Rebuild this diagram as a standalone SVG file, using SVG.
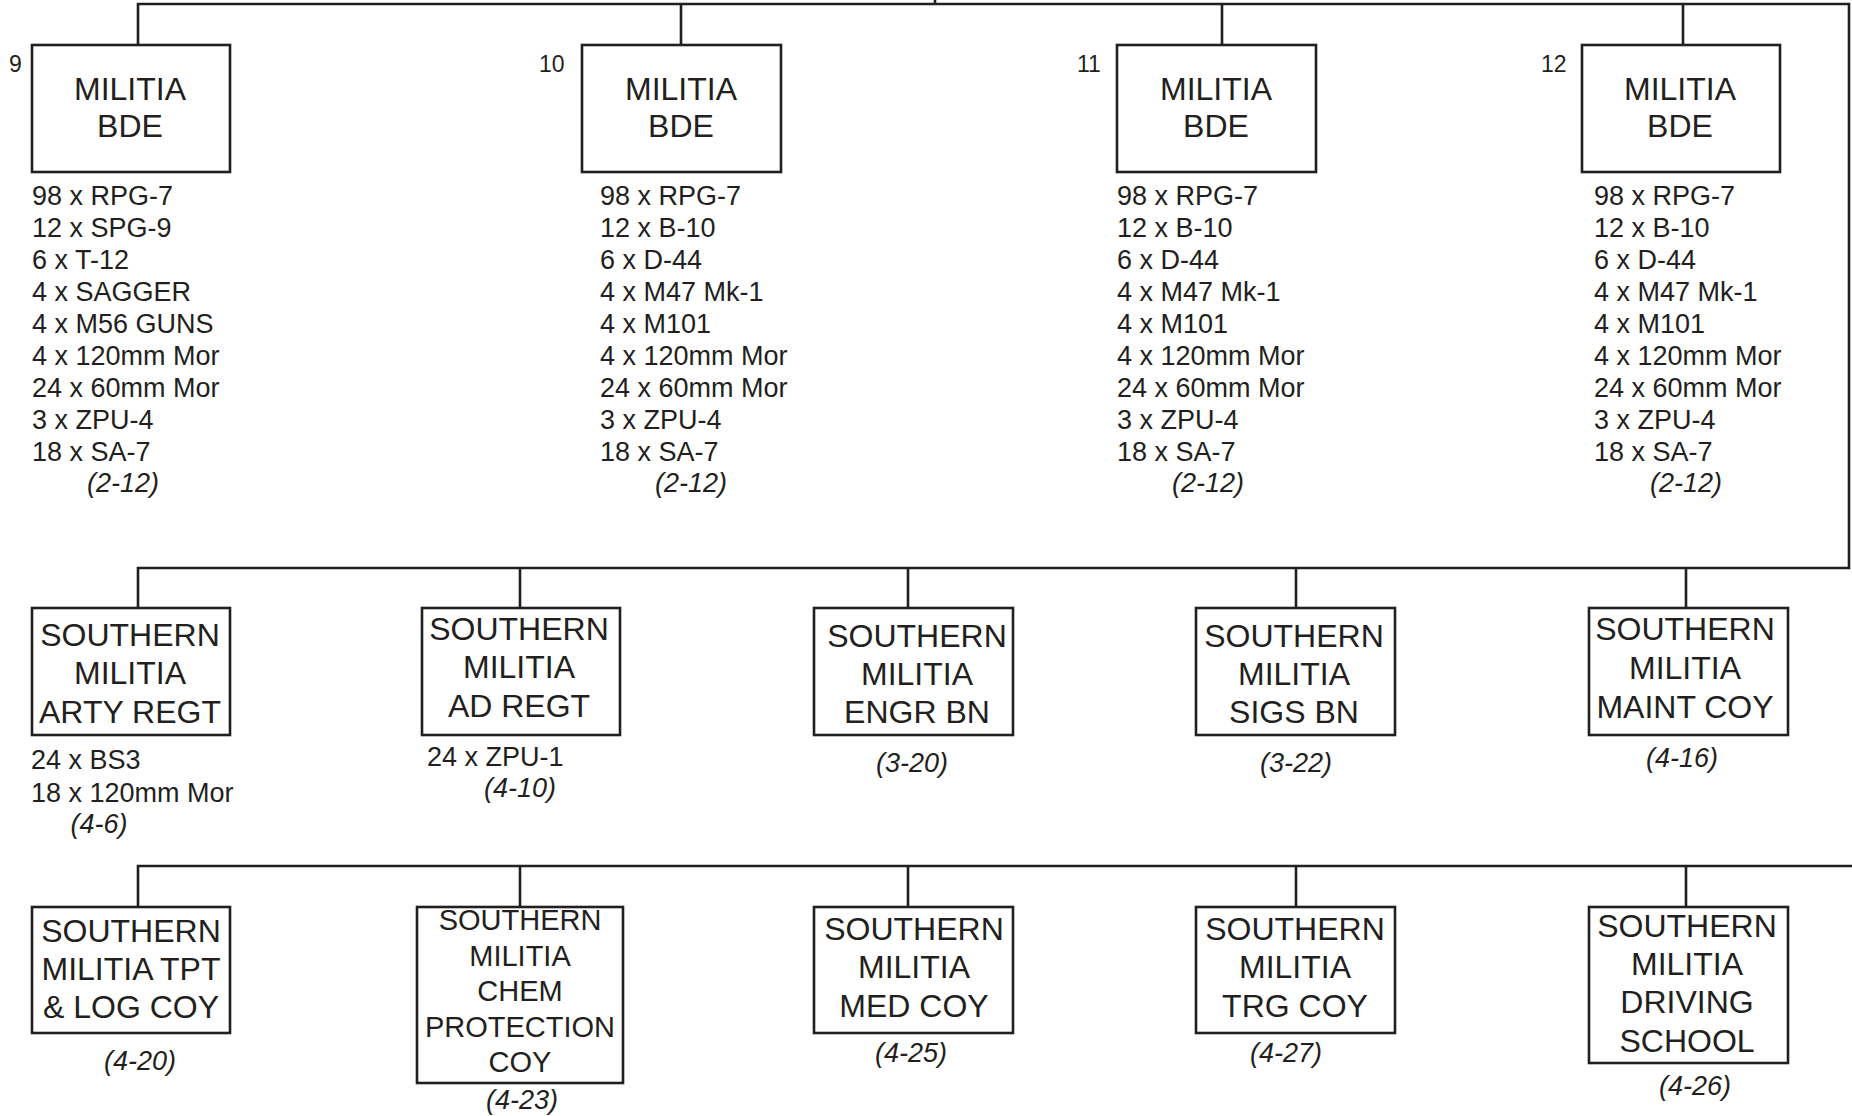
<svg xmlns="http://www.w3.org/2000/svg" width="1852" height="1116" viewBox="0 0 1852 1116">
<style>
.bx{fill:#fff;stroke:#231f20;stroke-width:2.6}
.ln{fill:none;stroke:#231f20;stroke-width:2.6}
text{font-family:"Liberation Sans",Arial,sans-serif;fill:#231f20}
.t{font-size:32px;text-anchor:middle}
.tc{font-size:29px;text-anchor:middle}
.l{font-size:27px}
.n{font-size:23px}
.r{font-size:27px;font-style:italic;text-anchor:middle}
</style>
<rect width="1852" height="1116" fill="#fff"/>
<g id="connectors">
<path class="ln" d="M935,0V4M138,45V4H1849V568H138V608M681,4V45M1222,4V45M1683,4V45M520,568V608M908,568V608M1296,568V608M1686,568V608"/>
<path class="ln" d="M1852,866H138V907M520,866V907M908,866V907M1296,866V907M1686,866V907"/>
</g>
<g id="bde9">
<rect class="bx" x="32" y="45" width="198" height="127"/>
<text class="n" x="9" y="72">9</text>
<text class="t" x="130" y="100">MILITIA</text><text class="t" x="130" y="137">BDE</text>
<text class="l" x="32" y="205">98 x RPG-7</text><text class="l" x="32" y="237">12 x SPG-9</text><text class="l" x="32" y="269">6 x T-12</text><text class="l" x="32" y="301">4 x SAGGER</text><text class="l" x="32" y="333">4 x M56 GUNS</text><text class="l" x="32" y="365">4 x 120mm Mor</text><text class="l" x="32" y="397">24 x 60mm Mor</text><text class="l" x="32" y="429">3 x ZPU-4</text><text class="l" x="32" y="461">18 x SA-7</text>
<text class="r" x="123" y="492">(2-12)</text>
</g>
<g id="bde10">
<rect class="bx" x="582" y="45" width="199" height="127"/>
<text class="n" x="539" y="72">10</text>
<text class="t" x="681" y="100">MILITIA</text><text class="t" x="681" y="137">BDE</text>
<text class="l" x="600" y="205">98 x RPG-7</text><text class="l" x="600" y="237">12 x B-10</text><text class="l" x="600" y="269">6 x D-44</text><text class="l" x="600" y="301">4 x M47 Mk-1</text><text class="l" x="600" y="333">4 x M101</text><text class="l" x="600" y="365">4 x 120mm Mor</text><text class="l" x="600" y="397">24 x 60mm Mor</text><text class="l" x="600" y="429">3 x ZPU-4</text><text class="l" x="600" y="461">18 x SA-7</text>
<text class="r" x="691" y="492">(2-12)</text>
</g>
<g id="bde11">
<rect class="bx" x="1117" y="45" width="199" height="127"/>
<text class="n" x="1077" y="72">11</text>
<text class="t" x="1216" y="100">MILITIA</text><text class="t" x="1216" y="137">BDE</text>
<text class="l" x="1117" y="205">98 x RPG-7</text><text class="l" x="1117" y="237">12 x B-10</text><text class="l" x="1117" y="269">6 x D-44</text><text class="l" x="1117" y="301">4 x M47 Mk-1</text><text class="l" x="1117" y="333">4 x M101</text><text class="l" x="1117" y="365">4 x 120mm Mor</text><text class="l" x="1117" y="397">24 x 60mm Mor</text><text class="l" x="1117" y="429">3 x ZPU-4</text><text class="l" x="1117" y="461">18 x SA-7</text>
<text class="r" x="1208" y="492">(2-12)</text>
</g>
<g id="bde12">
<rect class="bx" x="1582" y="45" width="198" height="127"/>
<text class="n" x="1541" y="72">12</text>
<text class="t" x="1680" y="100">MILITIA</text><text class="t" x="1680" y="137">BDE</text>
<text class="l" x="1594" y="205">98 x RPG-7</text><text class="l" x="1594" y="237">12 x B-10</text><text class="l" x="1594" y="269">6 x D-44</text><text class="l" x="1594" y="301">4 x M47 Mk-1</text><text class="l" x="1594" y="333">4 x M101</text><text class="l" x="1594" y="365">4 x 120mm Mor</text><text class="l" x="1594" y="397">24 x 60mm Mor</text><text class="l" x="1594" y="429">3 x ZPU-4</text><text class="l" x="1594" y="461">18 x SA-7</text>
<text class="r" x="1686" y="492">(2-12)</text>
</g>
<g id="arty">
<rect class="bx" x="32" y="608" width="198" height="127"/>
<text class="t" x="130" y="646">SOUTHERN</text><text class="t" x="130" y="684">MILITIA</text><text class="t" x="130" y="723">ARTY REGT</text>
<text class="l" x="31" y="769">24 x BS3</text><text class="l" x="31" y="802">18 x 120mm Mor</text>
<text class="r" x="99" y="833">(4-6)</text>
</g>
<g id="ad">
<rect class="bx" x="422" y="608" width="198" height="127"/>
<text class="t" x="519" y="640">SOUTHERN</text><text class="t" x="519" y="678">MILITIA</text><text class="t" x="519" y="717">AD REGT</text>
<text class="l" x="427" y="766">24 x ZPU-1</text>
<text class="r" x="520" y="797">(4-10)</text>
</g>
<g id="engr">
<rect class="bx" x="814" y="608" width="199" height="127"/>
<text class="t" x="917" y="647">SOUTHERN</text><text class="t" x="917" y="685">MILITIA</text><text class="t" x="917" y="723">ENGR BN</text>
<text class="r" x="912" y="772">(3-20)</text>
</g>
<g id="sigs">
<rect class="bx" x="1196" y="608" width="199" height="127"/>
<text class="t" x="1294" y="647">SOUTHERN</text><text class="t" x="1294" y="685">MILITIA</text><text class="t" x="1294" y="723">SIGS BN</text>
<text class="r" x="1296" y="772">(3-22)</text>
</g>
<g id="maint">
<rect class="bx" x="1589" y="608" width="199" height="127"/>
<text class="t" x="1685" y="640">SOUTHERN</text><text class="t" x="1685" y="679">MILITIA</text><text class="t" x="1685" y="718">MAINT COY</text>
<text class="r" x="1682" y="767">(4-16)</text>
</g>
<g id="tpt">
<rect class="bx" x="32" y="907" width="198" height="126"/>
<text class="t" x="131" y="942">SOUTHERN</text><text class="t" x="131" y="980">MILITIA TPT</text><text class="t" x="131" y="1018">&amp; LOG COY</text>
<text class="r" x="140" y="1070">(4-20)</text>
</g>
<g id="chem">
<rect class="bx" x="417" y="907" width="206" height="176"/>
<text class="tc" x="520" y="930">SOUTHERN</text><text class="tc" x="520" y="966">MILITIA</text><text class="tc" x="520" y="1001">CHEM</text><text class="tc" x="520" y="1037">PROTECTION</text><text class="tc" x="520" y="1072">COY</text>
<text class="r" x="522" y="1109">(4-23)</text>
</g>
<g id="med">
<rect class="bx" x="814" y="907" width="199" height="126"/>
<text class="t" x="914" y="940">SOUTHERN</text><text class="t" x="914" y="978">MILITIA</text><text class="t" x="914" y="1017">MED COY</text>
<text class="r" x="911" y="1062">(4-25)</text>
</g>
<g id="trg">
<rect class="bx" x="1196" y="907" width="199" height="126"/>
<text class="t" x="1295" y="940">SOUTHERN</text><text class="t" x="1295" y="978">MILITIA</text><text class="t" x="1295" y="1017">TRG COY</text>
<text class="r" x="1286" y="1062">(4-27)</text>
</g>
<g id="driving">
<rect class="bx" x="1589" y="907" width="199" height="156"/>
<text class="t" x="1687" y="937">SOUTHERN</text><text class="t" x="1687" y="975">MILITIA</text><text class="t" x="1687" y="1013">DRIVING</text><text class="t" x="1687" y="1052">SCHOOL</text>
<text class="r" x="1695" y="1095">(4-26)</text>
</g>
</svg>
